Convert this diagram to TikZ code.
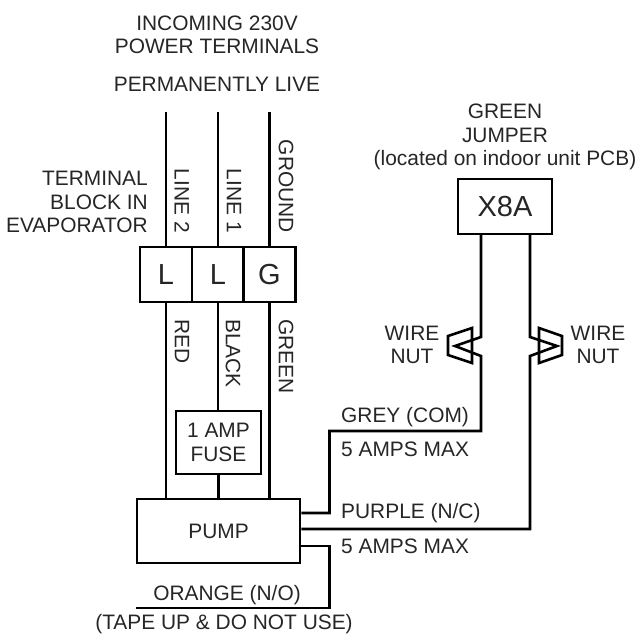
\documentclass[tikz,border=0pt]{standalone}
\usepackage{fontspec}
\setmainfont{Liberation Sans}
\usepackage{tikz}

\begin{document}
\begin{tikzpicture}[x=1pt,y=-1pt]
      \useasboundingbox(0,0) rectangle (637,634);
      \tikzset{B/.style = {shape=rectangle, draw, line width=2.6pt, inner sep=0pt, text=black!85, font=\fontsize{29}{29}\selectfont}}
      \tikzset{W/.style = {draw,line width=2.6pt,line join=miter}}
      \tikzset{T/.style = {text=black!85, inner sep=0pt, align=center, font=\fontsize{20.9}{23.2}\selectfont}}
      \tikzset{R/.style = {T, rotate=-90}}
      % terminal block
      \node[B,minimum width=52pt,minimum height=55pt](l2) at (166,274.5) {L};
      \node[B,minimum width=52pt,minimum height=55pt](l1) at (218,274.5) {L};
      \node[B,minimum width=52pt,minimum height=55pt](g) at (269.5,274.5) {G};
      \node[B,minimum width=85pt,minimum height=63pt,align=center,font=\fontsize{20.9}{23.2}\selectfont](fuse) at (218.5,442.5) {1 AMP\\FUSE};
      \node[B,minimum width=163pt,minimum height=64pt,font=\fontsize{20.9}{23}\selectfont](pump) at (218.5,531) {PUMP};
      \node[B,minimum width=94pt,minimum height=55pt](x8a) at (505,206.5) {X8A};
      % free ends
      \coordinate(top2) at (166,112);
      \coordinate(top1) at (218,112);
      \coordinate(topg) at (269.5,112);
      \coordinate(nutl) at (455,346);
      \coordinate(nutr) at (557,346);
      \coordinate(orange) at (136,608);
      % incoming lines
      \draw[W](top2) to (l2.north);
      \draw[W](top1) to (l1.north);
      \draw[W](topg) to (g.north);
      \draw[W](l2.south) to (l2.south |- pump.north);
      \draw[W](l1.south) to (l1.south |- fuse.north);
      \draw[W](g.south) to (g.south |- pump.north);
      \draw[W](fuse.south) to (fuse.south |- pump.north);
      % grey, purple, orange
      \draw[W](481,234) -- (481,337) -- (nutl) -- (481,356) -- (481,431) -- (329.5,431) -- (329.5,513) -- (pump.east |- 0,513);
      \draw[W](530,234) -- (530,337) -- (nutr) -- (530,356) -- (530,529) -- (pump.east |- 0,529);
      \draw[W](pump.east |- 0,546) -- (329.5,546) -- (329.5,608) -- (orange);
      % wire nuts
      \draw[W](472,328) -- (448,336) -- (448,355) -- (472,363) -- cycle;
      \draw[W](539,328) -- (562,336) -- (562,355) -- (539,363) -- cycle;
      % labels
      \node[T](title) at (217,35) {INCOMING 230V\\POWER TERMINALS};
      \node[T](live) at (217,84) {PERMANENTLY LIVE};
      \node[T,align=right,anchor=east](block) at (148,202) {TERMINAL\\BLOCK IN\\EVAPORATOR};
      \node[T](jumper) at (505,137) {GREEN\\JUMPER\\(located on indoor unit PCB)};
      \node[R,anchor=east](line2) at (182,233) {LINE 2};
      \node[R,anchor=east](line1) at (234,233) {LINE 1};
      \node[R,anchor=east](ground) at (286,233) {GROUND};
      \node[R,anchor=west](red) at (182,319) {RED};
      \node[R,anchor=west](black) at (233,319) {BLACK};
      \node[R,anchor=west](green) at (286,319) {GREEN};
      \node[T](wirel) at (412,345) {WIRE\\NUT};
      \node[T](wirer) at (598,345) {WIRE\\NUT};
      \node[T,anchor=west](grey) at (341,417) {GREY (COM)};
      \node[T,anchor=west](amps1) at (341,449) {5 AMPS MAX};
      \node[T,anchor=west](purple) at (341,513) {PURPLE (N/C)};
      \node[T,anchor=west](amps2) at (341,546) {5 AMPS MAX};
      \node[T](orangel) at (227,595) {ORANGE (N/O)};
      \node[T](tape) at (224,624) {(TAPE UP \& DO NOT USE)};
    \end{tikzpicture}
\end{document}
